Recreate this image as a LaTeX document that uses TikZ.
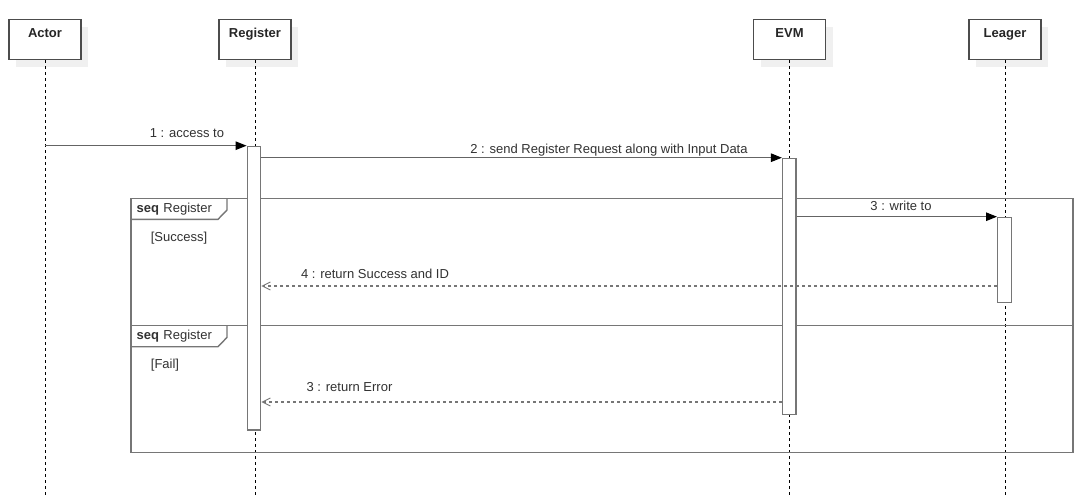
\documentclass[tikz,border=0pt]{standalone}
\usepackage{fontspec}
\setmainfont{Liberation Sans}
\usetikzlibrary{arrows.meta,shadows}
\definecolor{linegray}{RGB}{118,118,118}
\definecolor{msggray}{RGB}{100,100,100}
\definecolor{textgray}{RGB}{50,50,50}
\tikzset{
    head/.style={draw=black!70, line width=1.1pt, fill=white, anchor=north,
        minimum width=72pt, inner ysep=8.5pt, text height=9pt, text depth=14pt,
        font=\fontsize{13}{15}\selectfont\bfseries, text=black!85,
        general shadow={fill=black!6, shadow xshift=7pt, shadow yshift=-7pt}},
    lifeline/.style={black, line width=0.9pt, dash pattern=on 3pt off 3pt},
    actbar/.style={draw=linegray, line width=1.3pt, fill=white, anchor=north,
        minimum width=13.5pt, inner sep=0pt},
    frame/.style={draw=linegray, line width=1.4pt},
    msg/.style={draw=msggray, line width=1.1pt,
        -{Triangle[length=11pt,width=8.5pt,color=black]}},
    reply/.style={draw=linegray, line width=1.1pt, dash pattern=on 3pt off 3pt,
        -{Straight Barb[length=8pt,width=8pt,line width=0.9pt]}},
    lbl/.style={font=\fontsize{13}{15}\selectfont, text=textgray, anchor=base,
        inner sep=0pt}
}
\begin{document}
\begin{tikzpicture}[x=1pt,y=-1pt]
        \path[fill=white,use as bounding box] (0,0) rectangle (1087,496);
        %% Heads
        \node[head] (actor) at (45,19.3)     {Actor};
        \node[head] (reg)   at (255,19.3)    {Register};
        \node[head] (evm)   at (789.5,19.3)  {EVM};
        \node[head] (leag)  at (1005,19.3)   {Leager};
        %% Lifelines
        \draw[lifeline] (actor.south) -- (actor.south |- 0,496);
        \draw[lifeline] (reg.south)   -- (reg.south |- 0,496);
        \draw[lifeline] (evm.south)   -- (evm.south |- 0,496);
        \draw[lifeline] (leag.south)  -- (leag.south |- 0,496);
        %% Frames
        \draw[frame] (131,198.3) rectangle (1073,325.7);
        \draw[frame] (131,219.3) -- (218,219.3) -- (227,210) -- (227,198.3);
        \node[lbl,anchor=base west] (seq1) at (136.5,212.3) {\textbf{seq}\,\,Register};
        \node[lbl] (guard1) at (179,241.7) {[Success]};
        \draw[frame] (131,325.7) rectangle (1073,452.7);
        \draw[frame] (131,346.7) -- (218,346.7) -- (227,337.4) -- (227,325.7);
        \node[lbl,anchor=base west] (seq2) at (136.5,339.7) {\textbf{seq}\,\,Register};
        \node[lbl] (guard2) at (165,368.7) {[Fail]};
        %% Activations
        \node[actbar,minimum height=283.6pt] (regbar)  at (254,145.7)    {};
        \node[actbar,minimum height=256pt]   (evmbar)  at (789.3,157.7)  {};
        \node[actbar,minimum height=85pt]    (leagbar) at (1004.4,216.7) {};
        \coordinate (okstart)  at (leagbar.west |- 0,286);
        \coordinate (errstart) at (evmbar.west |- 0,402);
        %% Messages
        \draw[msg] (actor.south |- regbar.north) -- (regbar.north west);
        \node[lbl] (m1) at (187,137.7) {1 : access to};
        \draw[msg] (regbar.east |- evmbar.north) -- (evmbar.north west);
        \node[lbl] (m2) at (609,153) {2 : send Register Request along with Input Data};
        \draw[msg] (evmbar.east |- leagbar.north) -- (leagbar.north west);
        \node[lbl] (m3) at (901,210.5) {3 : write to};
        \draw[reply] (okstart) -- (regbar.east |- okstart);
        \node[lbl] (m4) at (375,278.3) {4 : return Success and ID};
        \draw[reply] (errstart) -- (regbar.east |- errstart);
        \node[lbl] (m5) at (349.5,391.3) {3 : return Error};
\end{tikzpicture}
\end{document}
